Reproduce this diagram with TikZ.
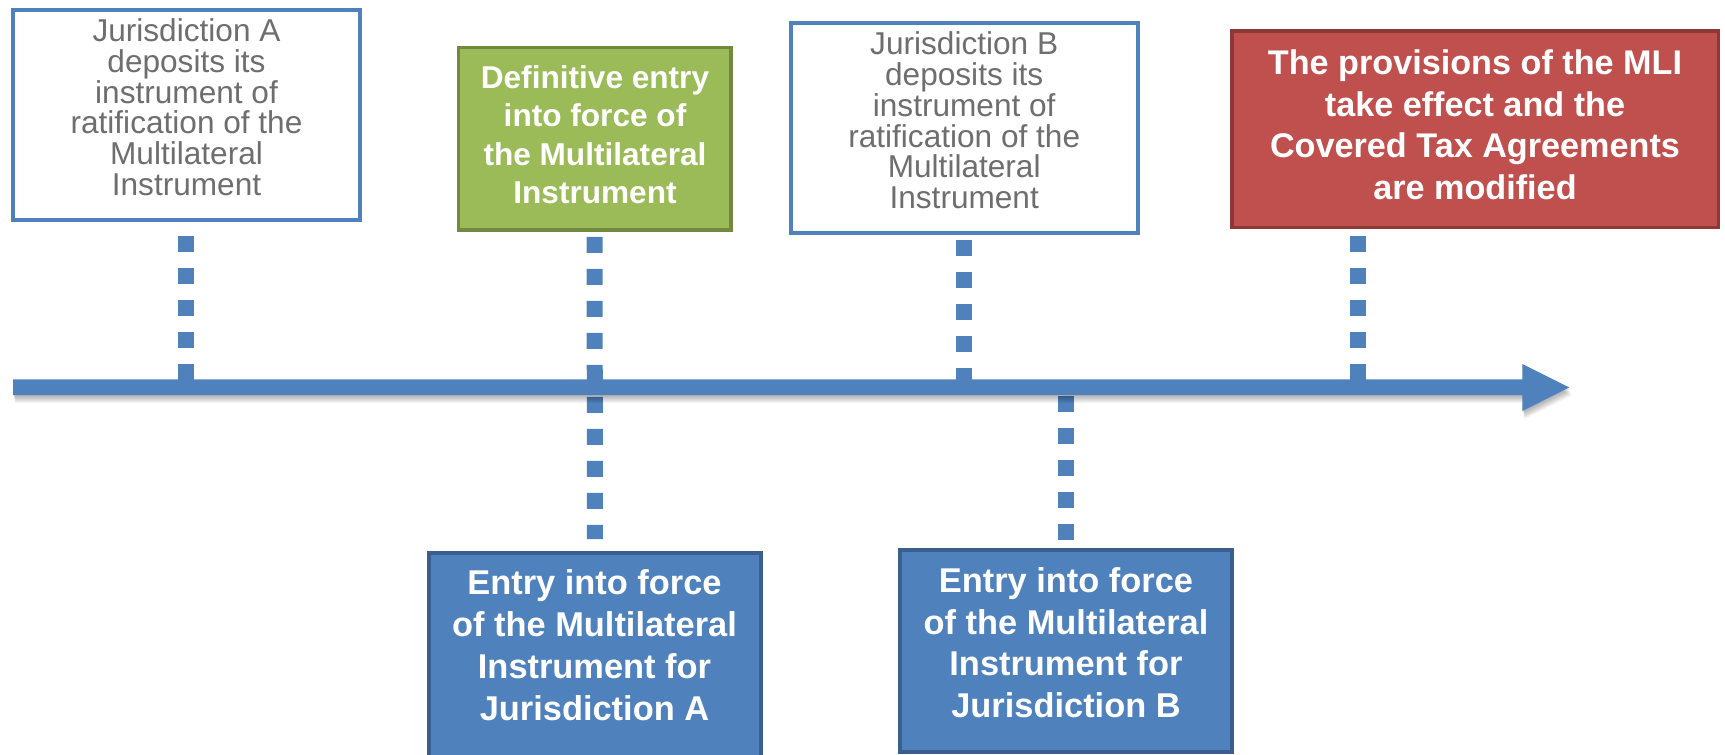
\documentclass[tikz,border=0pt]{standalone}
\usepackage{fontspec}
\setmainfont{Liberation Sans}
\usetikzlibrary{calc}
\definecolor{tlblue}{HTML}{4F81BD}
\definecolor{tlblueedge}{HTML}{3A5F8C}
\definecolor{tlgreen}{HTML}{9BBB59}
\definecolor{tlgreenedge}{HTML}{71893F}
\definecolor{tlred}{HTML}{C0504D}
\definecolor{tlrededge}{HTML}{8C3836}
\definecolor{notegray}{HTML}{6E6E6E}
\begin{document}
\begin{tikzpicture}[x=1pt, y=-1pt,
  notebox/.style={draw=tlblue, line width=4pt, fill=white, inner sep=0pt,
                  minimum width=347pt, minimum height=210.5pt},
  greenbox/.style={draw=tlgreenedge, fill=tlgreen, line width=3.5pt, inner sep=0pt,
                   minimum width=272.5pt, minimum height=182.2pt},
  redbox/.style={draw=tlrededge, fill=tlred, line width=3.5pt, inner sep=0pt,
                 minimum width=486.5pt, minimum height=196.5pt},
  bluebox/.style={draw=tlblueedge, fill=tlblue, line width=4pt, inner sep=0pt,
                  minimum width=332.5pt},
  notetext/.style={align=center, text=notegray, inner sep=0pt,
                   font=\fontsize{31.6pt}{30.7pt}\selectfont},
  boldtext/.style={align=center, text=white, inner sep=0pt},
  dotlink/.style={draw=tlblue, line width=16pt, dash pattern=on 16pt off 16pt},
]
\useasboundingbox (0,0) rectangle (1725,755);

% event boxes above and below the time line
\node[notebox]  (boxA) at (186.5,115) {};
\node[greenbox] (boxG) at (594.7,138.8) {};
\node[notebox]  (boxB) at (964.2,128) {};
\node[redbox]   (boxR) at (1475,129.3) {};
\node[bluebox, minimum height=207.3pt] (boxEA) at (594.8,656.35) {};
\node[bluebox, minimum height=201.7pt] (boxEB) at (1066.2,651.15) {};

% points where the events sit on the time line
\coordinate (tA) at (186,387);
\coordinate (tB) at (964,387);
\coordinate (tR) at (1358,387);
\coordinate (tEB) at (1066,387);

% dotted leaders
\draw[dotlink] ($(boxA.south -| tA)+(0,14)$) -- (tA);
\draw[dotlink] ($(boxG.south)+(0,5.3)$) -- ($(boxEA.north)+(0,-11.7)$);
\draw[dotlink] ($(boxB.south -| tB)+(0,4.7)$) -- (tB);
\draw[dotlink] ($(boxR.south -| tR)+(0,6.7)$) -- (tR);
\draw[dotlink] ($(tEB)+(0,9)$) -- ($(boxEB.north -| tEB)+(0,-8)$);

% soft shadow under the time line arrow
\foreach \k in {1,...,8}{
  \fill[black, opacity=0.045, shift={(0.3*\k,\k)}]
    (13,379.3) -- (1522.3,379.3) -- (1522.3,364) -- (1569.3,387.4)
    -- (1522.3,411) -- (1522.3,395) -- (13,395) -- cycle;
}
% time line arrow
\fill[tlblue]
  (13,379.3) -- (1522.3,379.3) -- (1522.3,364) -- (1569.3,387.4)
  -- (1522.3,411) -- (1522.3,395) -- (13,395) -- cycle;

% box texts
\node[notetext] (txtA) at (186.5,107.1)
  {Jurisdiction A\\deposits its\\instrument of\\ratification of the\\Multilateral\\Instrument};
\node[notetext] (txtB) at (964.2,120.4)
  {Jurisdiction B\\deposits its\\instrument of\\ratification of the\\Multilateral\\Instrument};
\node[boldtext, font=\fontsize{31.6pt}{38.6pt}\selectfont\bfseries] (txtG) at (595,134.8)
  {Definitive entry\\into force of\\the Multilateral\\Instrument};
\node[boldtext, font=\fontsize{34.2pt}{41.6pt}\selectfont\bfseries] (txtR) at (1475,124.6)
  {The provisions of the MLI\\take effect and the\\Covered Tax Agreements\\are modified};
\node[boldtext, font=\fontsize{34.4pt}{41.9pt}\selectfont\bfseries] (txtEA) at (594.5,645.5)
  {Entry into force\\of the Multilateral\\Instrument for\\Jurisdiction A};
\node[boldtext, font=\fontsize{34.4pt}{41.7pt}\selectfont\bfseries] (txtEB) at (1066,642.6)
  {Entry into force\\of the Multilateral\\Instrument for\\Jurisdiction B};
\end{tikzpicture}
\end{document}
